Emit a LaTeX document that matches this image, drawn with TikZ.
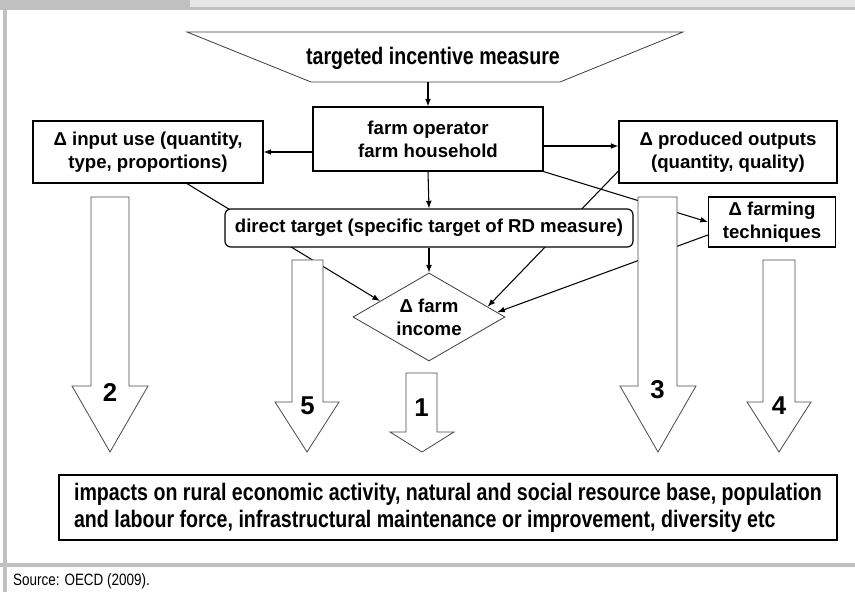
\documentclass[tikz,border=0pt]{standalone}
\usepackage{fontspec}
\setmainfont{Liberation Sans}
\newfontfamily\narrowfont[FakeStretch=0.82]{Liberation Sans}
\usepackage{xcolor}
\usepackage{tikz}
\usetikzlibrary{arrows.meta, positioning, calc, shapes.geometric, backgrounds}

\definecolor{framegray}{HTML}{C0C0C0}
\definecolor{bandgray}{HTML}{E6E6E6}
\newcommand{\boxfont}{\bfseries\fontsize{15.9}{19.6}\selectfont}
\newcommand{\condfont}{\narrowfont\bfseries\fontsize{20.4}{23}\selectfont}
\newcommand{\numfont}{\bfseries\fontsize{22}{26}\selectfont}
\newcommand{\srcfont}{\narrowfont\fontsize{14}{16}\selectfont}

\begin{document}
\begin{tikzpicture}[x=0.03cm, y=-0.03cm,
		box/.style={draw, line width=1pt, fill=white, align=center, font=\boxfont, inner sep=0pt},
		link/.style={-{Latex[length=6.5pt,width=5pt]}, line width=0.9pt},
		hollow/.style={draw=black!70, fill=white, line width=0.7pt},
		num/.style={font=\numfont, inner sep=0pt}]
	\useasboundingbox (0,0) rectangle (855,592);
	% frame
	\fill[framegray] (0,0) rectangle (190,10);
	\fill[bandgray] (190,0) rectangle (855,7);
	\fill[framegray] (190,7) rectangle (855,10);
	\fill[framegray] (3,0) rectangle (7,592);
	\fill[framegray] (0,563) rectangle (855,567);
	\node[anchor=west, font=\srcfont, inner sep=0pt] (source) at (13,581) {Source: OECD (2009).};

	% top measure
	\draw[line width=0.7pt, draw=black!75] (187,32) -- (683,32) -- (560,82) -- (311,82) -- cycle;
	\coordinate (mb) at (428,82);
	\node[font=\condfont] (measure) at (433,58) {targeted incentive measure};

	\node[box, minimum width=6.9cm, minimum height=1.92cm] (farm) at (428,139) {farm operator\\farm household};
	\node[box, minimum width=6.9cm, minimum height=1.86cm] (input) at (148,152) {Δ input use (quantity,\\type, proportions)};
	\node[box, minimum width=6.54cm, minimum height=1.86cm] (outputs) at (728,152) {Δ produced outputs\\(quantity, quality)};
	\node[box, minimum width=3.81cm, minimum height=1.5cm] (techniques) at (772,222) {Δ farming\\techniques};
	\node[box, rounded corners=5pt, minimum width=12.24cm, minimum height=1.14cm] (target) at (429,228) {direct target (specific target of RD measure)};
	\node[box, diamond, aspect=1.73, line width=0.7pt, draw=black!75, minimum width=4.56cm, minimum height=2.64cm] (income) at (429,317) {Δ farm\\income};
	\node[box, font=\condfont, align=left, minimum width=23.34cm, minimum height=1.95cm] (impacts) at (448,507.5) {impacts on rural economic activity, natural and social resource base, population\\and labour force, infrastructural maintenance or improvement, diversity etc};

	\begin{scope}[on background layer]
		\draw[link] (mb) -- (farm.north);
		\draw[link] (farm.west |- input.east) -- (input.east);
		\draw[link] ($(farm.east)+(0,7)$) -- ($(outputs.west)+(0,-6)$);
		\draw[link] (farm.south) -- (target.north);
		\draw[link] (target.south) -- (income.north);
		\draw[link] (farm.south east) -- (techniques.west);
		\draw[link] ($(input.south)+(39,0)$) -- (income.162);
		\draw[link] ($(outputs.west)+(0,19)$) -- (income.10);
		\draw[link] ($(techniques.west)+(0,13)$) -- (income.4);
	\end{scope}

	% hollow arrows to the impacts
	\foreach \xl/\xr/\yt/\yh/\hl/\hr/\n/\ny in {91/129/197/386/72/148/2/393, 292/323/260/402/275/339/5/406, 406/437/373/432/390/454/1/408, 638/677/197/386/620/696/3/390, 763/795/260/402/747/811/4/406}{
		\draw[hollow] (\xl,\yt) -- (\xr,\yt) -- (\xr,\yh) -- (\hr,\yh) -- ({(\hl+\hr)/2},452) -- (\hl,\yh) -- (\xl,\yh) -- cycle;
		\node[num] (n\n) at ({(\xl+\xr)/2},\ny) {\n};
	}
\end{tikzpicture}
\end{document}
